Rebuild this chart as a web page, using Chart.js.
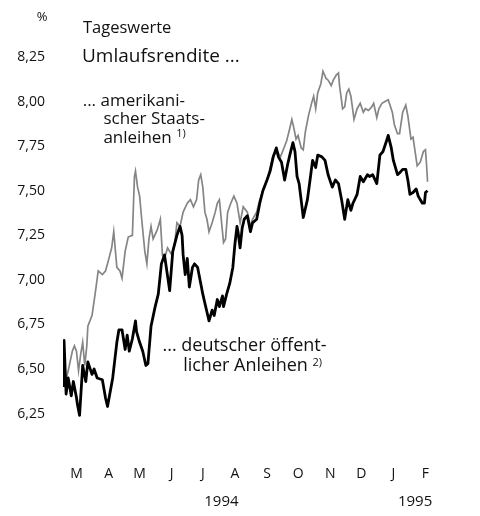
<!DOCTYPE html>
<html>
<head>
<meta charset="utf-8">
<script src="https://cdn.jsdelivr.net/npm/chart.js@4.4.1/dist/chart.umd.min.js"></script>
<style>
  html, body { margin: 0; padding: 0; background: #fff; }
  canvas { display: block; }
</style>
</head>
<body>
<canvas id="chart" width="480" height="516"></canvas>
<script>
// days counted from 1 March 1994, daily yields in %
const gerDays = [0, 1, 3, 5, 8, 10, 13, 14, 16, 19, 22, 24, 28, 30, 33, 38, 41, 43, 48, 52, 54, 57, 60, 62, 64, 67, 70, 71, 74, 77, 80, 82, 85, 89, 92, 95, 98, 101, 103, 106, 110, 113, 115, 116, 118, 120, 122, 125, 127, 130, 133, 135, 137, 139, 141, 144, 146, 149, 151, 154, 155, 158, 161, 164, 166, 168, 169, 171, 173, 175, 178, 181, 183, 187, 190, 193, 197, 200, 203, 206, 208, 211, 214, 217, 219, 222, 224, 226, 228, 231, 232, 236, 239, 241, 244, 246, 250, 253, 256, 260, 263, 266, 269, 272, 275, 278, 280, 284, 287, 290, 294, 296, 299, 303, 306, 309, 313, 314, 317, 319, 323, 325, 328, 331, 333, 335, 338, 341, 343, 347, 349, 350, 352];
const gerYield = [6.40, 6.66, 6.36, 6.45, 6.35, 6.43, 6.34, 6.30, 6.24, 6.52, 6.43, 6.54, 6.47, 6.50, 6.45, 6.44, 6.34, 6.29, 6.45, 6.65, 6.72, 6.72, 6.61, 6.69, 6.60, 6.67, 6.77, 6.71, 6.65, 6.60, 6.52, 6.53, 6.74, 6.85, 6.92, 7.09, 7.14, 7.02, 6.94, 7.16, 7.25, 7.30, 7.25, 7.14, 7.03, 7.12, 6.96, 7.07, 7.09, 7.07, 6.98, 6.92, 6.87, 6.82, 6.77, 6.83, 6.80, 6.89, 6.85, 6.91, 6.85, 6.92, 6.98, 7.07, 7.20, 7.30, 7.27, 7.18, 7.29, 7.34, 7.36, 7.27, 7.32, 7.34, 7.43, 7.50, 7.56, 7.61, 7.69, 7.74, 7.69, 7.66, 7.56, 7.65, 7.70, 7.77, 7.72, 7.58, 7.54, 7.40, 7.35, 7.45, 7.58, 7.67, 7.63, 7.70, 7.69, 7.67, 7.59, 7.52, 7.56, 7.54, 7.45, 7.34, 7.45, 7.39, 7.43, 7.48, 7.58, 7.55, 7.59, 7.58, 7.59, 7.54, 7.70, 7.72, 7.79, 7.81, 7.74, 7.67, 7.59, 7.60, 7.62, 7.62, 7.56, 7.48, 7.49, 7.51, 7.47, 7.43, 7.43, 7.49, 7.50];

const usDays = [1, 2, 5, 9, 11, 13, 15, 17, 19, 21, 23, 24, 28, 31, 34, 38, 41, 43, 47, 49, 52, 55, 57, 60, 63, 67, 69, 70, 72, 74, 76, 79, 81, 83, 85, 87, 91, 94, 96, 98, 101, 105, 108, 110, 113, 116, 120, 123, 126, 129, 131, 133, 135, 137, 139, 141, 144, 147, 149, 151, 154, 155, 157, 159, 162, 165, 168, 171, 174, 178, 181, 183, 187, 190, 193, 197, 200, 203, 207, 210, 212, 216, 219, 221, 223, 225, 227, 230, 232, 234, 237, 240, 242, 244, 246, 249, 251, 254, 256, 259, 261, 264, 266, 267, 270, 272, 274, 276, 278, 281, 284, 287, 290, 292, 295, 298, 300, 303, 305, 308, 311, 314, 318, 320, 323, 325, 328, 331, 333, 336, 338, 340, 342, 345, 348, 350, 351, 352];
const usYield = [6.46, 6.42, 6.49, 6.60, 6.63, 6.60, 6.49, 6.58, 6.65, 6.52, 6.63, 6.74, 6.80, 6.92, 7.05, 7.03, 7.05, 7.09, 7.18, 7.27, 7.07, 7.05, 7.01, 7.16, 7.24, 7.25, 7.58, 7.61, 7.52, 7.47, 7.34, 7.16, 7.09, 7.23, 7.30, 7.23, 7.28, 7.34, 7.14, 7.12, 7.18, 7.14, 7.21, 7.32, 7.30, 7.38, 7.43, 7.45, 7.41, 7.45, 7.56, 7.59, 7.52, 7.38, 7.34, 7.27, 7.32, 7.38, 7.43, 7.45, 7.27, 7.21, 7.23, 7.38, 7.43, 7.47, 7.43, 7.32, 7.41, 7.38, 7.30, 7.34, 7.38, 7.45, 7.50, 7.56, 7.63, 7.70, 7.72, 7.69, 7.72, 7.78, 7.85, 7.90, 7.85, 7.79, 7.81, 7.74, 7.73, 7.83, 7.92, 7.99, 8.03, 7.96, 8.05, 8.10, 8.17, 8.13, 8.12, 8.09, 8.12, 8.15, 8.16, 8.09, 7.96, 7.97, 8.05, 8.07, 8.03, 7.90, 7.96, 7.99, 7.94, 7.96, 7.95, 7.97, 7.99, 7.91, 7.96, 7.99, 8.00, 8.01, 7.94, 7.87, 7.82, 7.82, 7.94, 7.98, 7.92, 7.79, 7.80, 7.72, 7.64, 7.66, 7.72, 7.73, 7.65, 7.55];

const monthLabels = ["M", "A", "M", "J", "J", "A", "S", "O", "N", "D", "J", "F"];
const monthTickDays = [13, 44, 74, 105, 135, 166, 197, 227, 258, 288, 319, 350];
const yearLabels = ["1994", "1995"];
const yearTickDays = [153, 340];
const yTickValues = [6.25, 6.5, 6.75, 7.0, 7.25, 7.5, 7.75, 8.0, 8.25];

const FONT = "'Open Sans', 'DejaVu Sans', sans-serif";

function toPoints(xs, ys) {
  return xs.map((d, i) => ({ x: d, y: ys[i] }));
}

// annotations placed in data units (day, yield)
const notes = [
  { text: "... amerikani-", day: 19, val: 8.0, size: 17 },
  { text: "scher Staats-", day: 39, val: 7.9, size: 17 },
  { text: "anleihen ", day: 39, val: 7.795, size: 17, sup: "1)" },
  { text: "... deutscher öffent-", day: 96, val: 6.63, size: 18 },
  { text: "licher Anleihen ", day: 116, val: 6.515, size: 18, sup: "2)" },
];

const textPlugin = {
  id: "texts",
  afterDraw(chart) {
    const ctx = chart.ctx;
    const xs = chart.scales.x;
    const ys = chart.scales.y;
    ctx.save();
    ctx.fillStyle = "#111";
    ctx.textBaseline = "middle";
    ctx.textAlign = "center";
    ctx.font = "13px " + FONT;
    ctx.fillText("%", 42, 17);
    ctx.textAlign = "left";
    ctx.font = "16.5px " + FONT;
    ctx.fillText("Tageswerte", 83, 28);
    ctx.font = "19px " + FONT;
    ctx.fillText("Umlaufsrendite ...", 82, ys.getPixelForValue(8.25));
    notes.forEach((n) => {
      const px = xs.getPixelForValue(n.day);
      const py = ys.getPixelForValue(n.val);
      ctx.font = n.size + "px " + FONT;
      ctx.fillText(n.text, px, py);
      if (n.sup) {
        const w = ctx.measureText(n.text).width;
        ctx.font = "11px " + FONT;
        ctx.fillText(n.sup, px + w, py - 4);
      }
    });
    ctx.restore();
  },
};

const ctx = document.getElementById("chart");
const chart = new Chart(ctx, {
  type: "line",
  data: {
    datasets: [
      {
        label: "deutsche öffentliche Anleihen",
        data: toPoints(gerDays, gerYield),
        borderColor: "#000",
        borderWidth: 2.8,
        pointRadius: 0,
        tension: 0,
        borderJoinStyle: "round",
      },
      {
        label: "amerikanische Staatsanleihen",
        data: toPoints(usDays, usYield),
        borderColor: "#858585",
        borderWidth: 1.7,
        pointRadius: 0,
        tension: 0,
      },
    ],
  },
  options: {
    responsive: false,
    animation: false,
    layout: {
      padding: { top: 57, right: 39, bottom: 1, left: 0 },
    },
    plugins: {
      legend: { display: false },
      tooltip: { enabled: false },
    },
    scales: {
      x: {
        type: "linear",
        min: 0,
        max: 365,
        grid: { display: false, drawTicks: false },
        border: { display: false },
        afterBuildTicks: (scale) => {
          scale.ticks = monthTickDays.map((v) => ({ value: v }));
        },
        ticks: {
          padding: 7,
          maxRotation: 0,
          autoSkip: false,
          color: "#111",
          font: { family: FONT, size: 14 },
          callback: (value, index) => monthLabels[index],
        },
      },
      year: {
        type: "linear",
        position: "bottom",
        min: 0,
        max: 365,
        grid: { display: false, drawTicks: false },
        border: { display: false },
        afterBuildTicks: (scale) => {
          scale.ticks = yearTickDays.map((v) => ({ value: v }));
        },
        ticks: {
          padding: 4,
          maxRotation: 0,
          autoSkip: false,
          color: "#111",
          font: { family: FONT, size: 15 },
          callback: (value, index) => yearLabels[index],
        },
      },
      y: {
        min: 6.0,
        max: 8.25,
        grid: { display: false, drawTicks: false },
        border: { display: false },
        afterFit: (scale) => {
          scale.width = 63;
        },
        afterBuildTicks: (scale) => {
          scale.ticks = yTickValues.map((v) => ({ value: v }));
        },
        ticks: {
          padding: 18,
          color: "#111",
          font: { family: FONT, size: 14 },
          callback: (value) => value.toFixed(2).replace(".", ","),
        },
      },
    },
  },
  plugins: [textPlugin],
});
</script>
</body>
</html>
